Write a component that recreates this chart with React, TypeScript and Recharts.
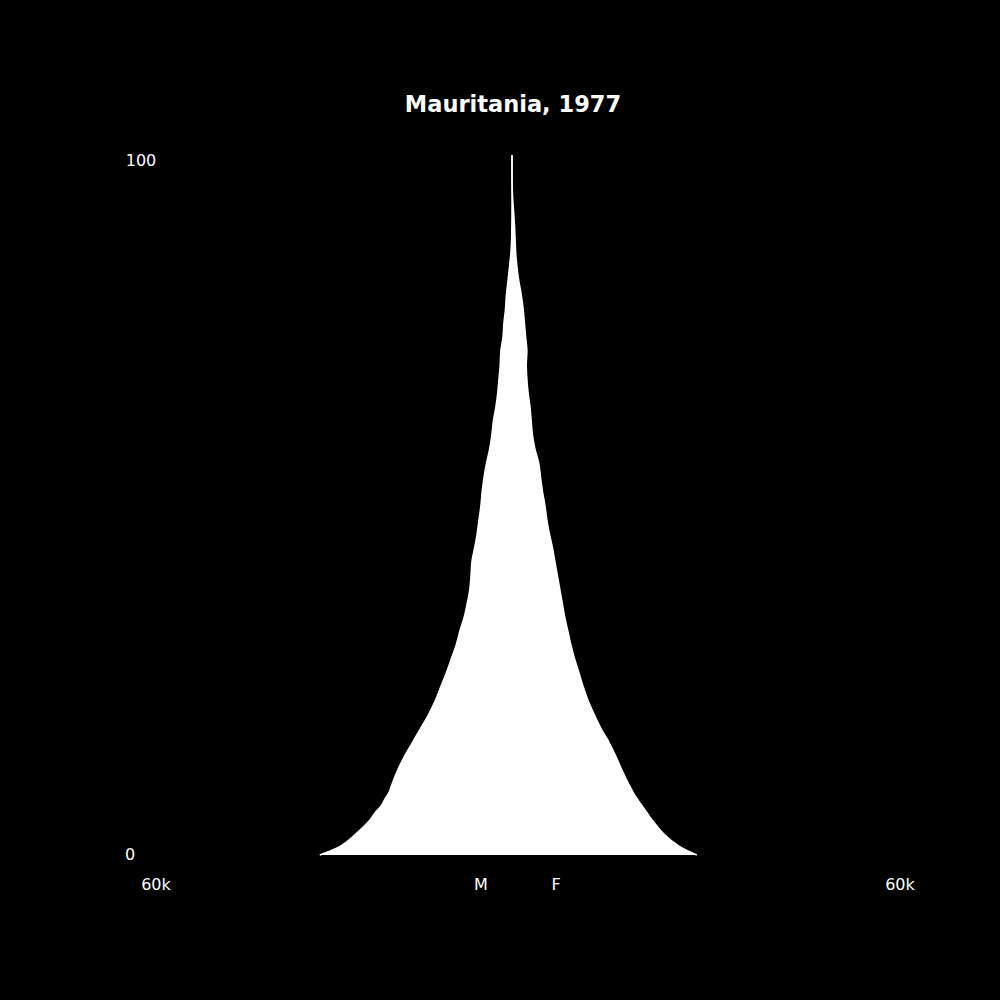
import React from "react";
import { ComposedChart, Area, XAxis, YAxis, Customized } from "recharts";

// ages in years (single years at the base, then every two years)
const ages = [
  0, 1, 2, 3, 4, 5, 6, 7, 8, 9, 10, 12, 14, 16, 18, 20, 22, 24, 26, 28, 30, 32,
  34, 36, 38, 40, 42, 44, 46, 48, 50, 52, 54, 56, 58, 60, 62, 64, 66, 68, 70,
  72, 74, 76, 78, 80, 82, 84, 86, 88, 90, 92, 94, 96, 98, 100,
];

// population in thousands
const male = [
  31.0, 28.2, 26.5, 25.2, 24.0, 22.9, 22.1, 21.1, 20.5, 19.8, 19.4, 18.5, 17.4,
  16.1, 14.8, 13.5, 12.4, 11.5, 10.6, 9.8, 9.0, 8.4, 7.7, 7.2, 6.8, 6.6, 6.45,
  6.0, 5.6, 5.3, 5.0, 4.8, 4.5, 4.1, 3.6, 3.25, 3.0, 2.6, 2.3, 2.1, 1.9, 1.8,
  1.45, 1.3, 1.05, 0.9, 0.65, 0.4, 0.18, 0.06, 0.02, 0, 0, 0, 0, 0,
];

const female = [
  29.8, 27.4, 25.8, 24.5, 23.5, 22.6, 21.8, 21.0, 20.2, 19.5, 18.9, 17.8, 16.8,
  15.7, 14.4, 13.3, 12.3, 11.5, 10.8, 10.1, 9.5, 9.0, 8.5, 8.1, 7.7, 7.3, 6.9,
  6.5, 6.0, 5.6, 5.3, 4.9, 4.6, 4.3, 3.7, 3.3, 3.1, 2.9, 2.6, 2.4, 2.3, 2.4,
  2.2, 2.0, 1.8, 1.5, 1.1, 0.8, 0.6, 0.5, 0.4, 0.25, 0.1, 0.03, 0, 0,
];

const title = "Mauritania, 1977";

const data = ages.map((age, i) => ({
  age,
  male: -male[i] * 1000,
  female: female[i] * 1000,
}));

const labelStyle = {
  fill: "#fff",
  fontSize: 16,
  fontFamily: "DejaVu Sans, sans-serif",
};

function Labels() {
  return (
    <g>
      <text x={513} y={112} textAnchor="middle" fill="#fff" fontSize={22.5} fontWeight="bold" fontFamily="DejaVu Sans, sans-serif">
        {title}
      </text>
      <text x={141} y={166} textAnchor="middle" {...labelStyle}>100</text>
      <text x={130} y={860} textAnchor="middle" {...labelStyle}>0</text>
      <text x={156} y={890} textAnchor="middle" {...labelStyle}>60k</text>
      <text x={481} y={890} textAnchor="middle" {...labelStyle}>M</text>
      <text x={556} y={890} textAnchor="middle" {...labelStyle}>F</text>
      <text x={900} y={890} textAnchor="middle" {...labelStyle}>60k</text>
    </g>
  );
}

export default function App() {
  return (
    <div style={{ position: "absolute", left: 0, top: 0, width: 1000, height: 1000, background: "#000" }}>
      <ComposedChart
        width={1000}
        height={1000}
        data={data}
        layout="vertical"
        margin={{ top: 155, right: 116, bottom: 145, left: 140 }}
      >
        <XAxis type="number" domain={[-60000, 60000]} hide />
        <YAxis type="number" dataKey="age" domain={[0, 100]} reversed hide />
        <Area
          type="monotone"
          dataKey="male"
          stroke="#fff"
          strokeWidth={1.5}
          fill="#fff"
          fillOpacity={1}
          isAnimationActive={false}
        />
        <Area
          type="monotone"
          dataKey="female"
          stroke="#fff"
          strokeWidth={1.5}
          fill="#fff"
          fillOpacity={1}
          isAnimationActive={false}
        />
        <Customized component={Labels} />
      </ComposedChart>
    </div>
  );
}
